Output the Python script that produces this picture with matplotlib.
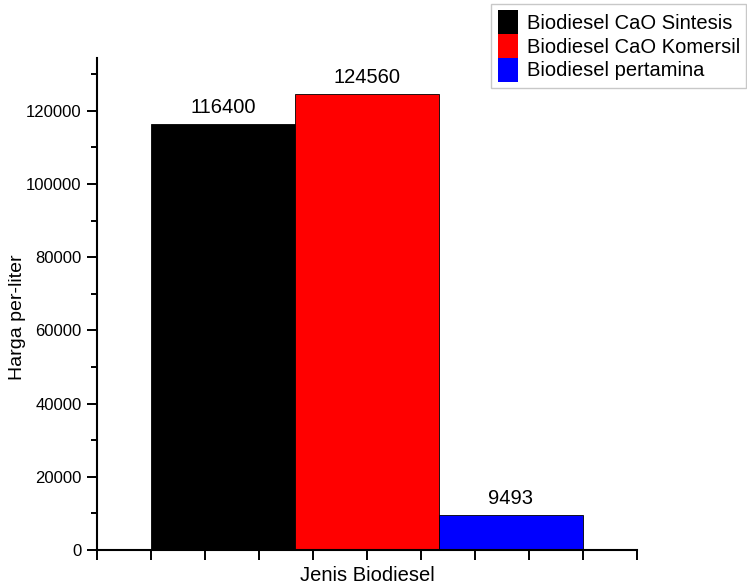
import matplotlib
matplotlib.use("Agg")
import matplotlib.pyplot as plt
from matplotlib.patches import Patch
from matplotlib.ticker import MultipleLocator

plt.rcParams['font.family'] = ['Liberation Sans', 'DejaVu Sans']

series = ["Biodiesel CaO Sintesis", "Biodiesel CaO Komersil", "Biodiesel pertamina"]
values = [116400, 124560, 9493]
colors = ["#000000", "#ff0000", "#0000ff"]
value_labels = ["116400", "124560", "9493"]

fig = plt.figure(figsize=(7.47, 5.85), dpi=100)
ax = fig.add_axes([97/747, 1-550/585, (637-97)/747, (550-58)/585])

width = 8/3
centers = [1 + width/2 + i*width for i in range(len(values))]
bars = ax.bar(centers, values, width=width, color=colors, edgecolor="black", linewidth=0.6)
for b, lab in zip(bars, value_labels):
    ax.annotate(lab, (b.get_x() + b.get_width()/2, b.get_height()), xytext=(0, 5),
                textcoords="offset points", ha="center", va="bottom", fontsize=14.5)

ax.set_xlim(0, 10)
ax.set_ylim(0, 134400)
ax.set_xticks(range(0, 11))
ax.set_xticklabels([])
ax.yaxis.set_major_locator(MultipleLocator(20000))
ax.yaxis.set_minor_locator(MultipleLocator(10000))
ax.tick_params(axis='y', which='major', direction='out', length=7, width=1.4, labelsize=12, pad=4)
ax.tick_params(axis='y', which='minor', direction='out', length=4.5, width=1.4)
ax.tick_params(axis='x', which='major', direction='out', length=7, width=1.4)
for s in ['top', 'right']:
    ax.spines[s].set_visible(False)
for s in ['left', 'bottom']:
    ax.spines[s].set_linewidth(1.5)

ax.set_xlabel("Jenis Biodiesel", fontsize=14.5)
ax.set_ylabel("Harga per-liter", fontsize=14)
ax.xaxis.set_label_coords(0.5, -(566-550)/492)
ax.yaxis.set_label_coords(-(97-26)/540, (550-317)/492)

handles = [Patch(facecolor=c, edgecolor="none") for c in colors]
leg = fig.legend(handles, series, loc="upper right", bbox_to_anchor=(746/747, 1-4/585),
                 fontsize=14.5, frameon=True, fancybox=False, handlelength=1.0,
                 handleheight=1.45, handletextpad=0.45, labelspacing=0.0,
                 borderpad=0.3, borderaxespad=0)
leg.get_frame().set_edgecolor("#bbbbbb")
leg.get_frame().set_linewidth(1.0)

fig.savefig("out.png", dpi=100)
